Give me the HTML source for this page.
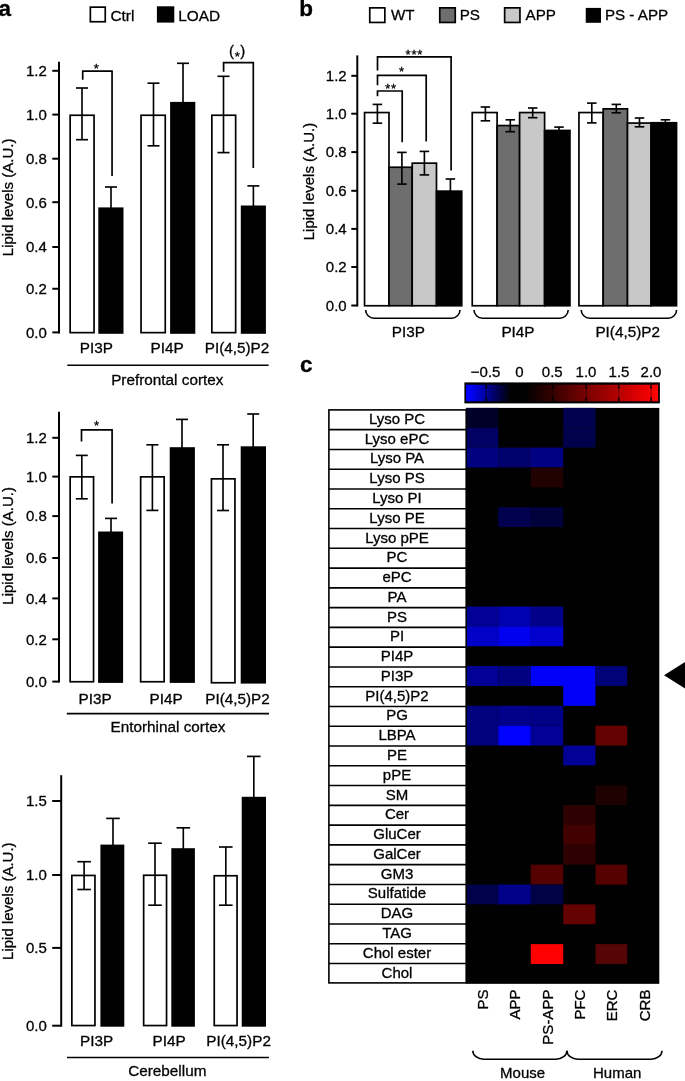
<!DOCTYPE html>
<html><head><meta charset="utf-8"><title>Figure</title>
<style>html,body{margin:0;padding:0;background:#fff}svg{display:block}text{font-family:"Liberation Sans",sans-serif;fill:#000;stroke:#000;stroke-width:0.3px}</style></head><body>
<svg width="685" height="1081" viewBox="0 0 685 1081">
<rect x="0" y="0" width="685" height="1081" fill="#fff"/>
<g opacity="0.999">
<text x="-1.6" y="15.9" text-anchor="start" font-size="22.5" font-weight="bold" >a</text>
<text x="299.3" y="15.9" text-anchor="start" font-size="22.5" font-weight="bold" >b</text>
<text x="299.9" y="372" text-anchor="start" font-size="22.5" font-weight="bold" >c</text>
<rect x="90.35" y="7.15" width="14.9" height="14.6" fill="#fff" stroke="#000" stroke-width="1.7"/>
<text x="110.4" y="20.6" text-anchor="start" font-size="15.4" >Ctrl</text>
<rect x="157.75" y="7.15" width="15.7" height="14.6" fill="#000" stroke="#000" stroke-width="1.7"/>
<text x="178.2" y="20.6" text-anchor="start" font-size="15.4" >LOAD</text>
<line x1="59" y1="61.7" x2="59" y2="333.4" stroke="#000" stroke-width="2.0" />
<line x1="52.3" y1="70.8" x2="59" y2="70.8" stroke="#000" stroke-width="2.0" />
<text x="46.9" y="76.1" text-anchor="end" font-size="15" >1.2</text>
<line x1="52.3" y1="114.6" x2="59" y2="114.6" stroke="#000" stroke-width="2.0" />
<text x="46.9" y="119.9" text-anchor="end" font-size="15" >1.0</text>
<line x1="52.3" y1="158.7" x2="59" y2="158.7" stroke="#000" stroke-width="2.0" />
<text x="46.9" y="164" text-anchor="end" font-size="15" >0.8</text>
<line x1="52.3" y1="202.2" x2="59" y2="202.2" stroke="#000" stroke-width="2.0" />
<text x="46.9" y="207.5" text-anchor="end" font-size="15" >0.6</text>
<line x1="52.3" y1="247" x2="59" y2="247" stroke="#000" stroke-width="2.0" />
<text x="46.9" y="252.3" text-anchor="end" font-size="15" >0.4</text>
<line x1="52.3" y1="288.75" x2="59" y2="288.75" stroke="#000" stroke-width="2.0" />
<text x="46.9" y="294.05" text-anchor="end" font-size="15" >0.2</text>
<line x1="52.3" y1="332.4" x2="59" y2="332.4" stroke="#000" stroke-width="2.0" />
<text x="46.9" y="337.7" text-anchor="end" font-size="15" >0.0</text>
<rect x="70.15" y="115.25" width="23.9" height="217.4" fill="#fff" stroke="#000" stroke-width="1.7"/>
<line x1="82" y1="88" x2="82" y2="139.7" stroke="#000" stroke-width="1.65" />
<line x1="76" y1="88" x2="88" y2="88" stroke="#000" stroke-width="1.65" />
<line x1="76" y1="139.7" x2="88" y2="139.7" stroke="#000" stroke-width="1.65" />
<line x1="111" y1="187" x2="111" y2="208.4" stroke="#000" stroke-width="1.65" />
<line x1="105" y1="187" x2="117" y2="187" stroke="#000" stroke-width="1.65" />
<rect x="98.3" y="207.4" width="25.2" height="126.4" fill="#000"/>
<rect x="141.05" y="115.25" width="24.2" height="217.4" fill="#fff" stroke="#000" stroke-width="1.7"/>
<line x1="153.5" y1="83.2" x2="153.5" y2="145.8" stroke="#000" stroke-width="1.65" />
<line x1="147.5" y1="83.2" x2="159.5" y2="83.2" stroke="#000" stroke-width="1.65" />
<line x1="147.5" y1="145.8" x2="159.5" y2="145.8" stroke="#000" stroke-width="1.65" />
<line x1="183" y1="63.3" x2="183" y2="102.9" stroke="#000" stroke-width="1.65" />
<line x1="177" y1="63.3" x2="189" y2="63.3" stroke="#000" stroke-width="1.65" />
<rect x="170.1" y="101.9" width="25.2" height="231.9" fill="#000"/>
<rect x="211.85" y="115.25" width="23.8" height="217.4" fill="#fff" stroke="#000" stroke-width="1.7"/>
<line x1="223.5" y1="76.3" x2="223.5" y2="152.6" stroke="#000" stroke-width="1.65" />
<line x1="217.5" y1="76.3" x2="229.5" y2="76.3" stroke="#000" stroke-width="1.65" />
<line x1="217.5" y1="152.6" x2="229.5" y2="152.6" stroke="#000" stroke-width="1.65" />
<line x1="253.4" y1="185.9" x2="253.4" y2="206.5" stroke="#000" stroke-width="1.65" />
<line x1="247.4" y1="185.9" x2="259.4" y2="185.9" stroke="#000" stroke-width="1.65" />
<rect x="240.8" y="205.5" width="25.1" height="128.3" fill="#000"/>
<text x="96.4" y="352.9" text-anchor="middle" font-size="15.3" >PI3P</text>
<text x="167.2" y="352.9" text-anchor="middle" font-size="15.3" >PI4P</text>
<text x="237" y="352.9" text-anchor="middle" font-size="15.3" >PI(4,5)P2</text>
<line x1="67.3" y1="365.3" x2="268.6" y2="365.3" stroke="#000" stroke-width="1.6" />
<text x="167.3" y="384.6" text-anchor="middle" font-size="15.3" >Prefrontal cortex</text>
<text transform="translate(13.2,197.4) rotate(-90)" text-anchor="middle" font-size="15" >Lipid levels (A.U.)</text>
<path d="M82.7 79.8 V71.1 H112.05 V176.1" fill="none" stroke="#000" stroke-width="1.7" stroke-linejoin="miter"/>
<text x="96.25" y="73.3" text-anchor="middle" font-size="13" stroke-width="0.55">*</text>
<path d="M223.6 71.8 V62.6 H253.3 V167.9" fill="none" stroke="#000" stroke-width="1.7" stroke-linejoin="miter"/>
<text x="237.2" y="60.9" text-anchor="middle" font-size="13" stroke-width="0.55">*</text>
<text x="229.1" y="55.6" text-anchor="start" font-size="15" >(</text>
<text x="245.2" y="55.6" text-anchor="end" font-size="15" >)</text>
<line x1="59" y1="411.7" x2="59" y2="682.6" stroke="#000" stroke-width="2.0" />
<line x1="52.3" y1="437.8" x2="59" y2="437.8" stroke="#000" stroke-width="2.0" />
<text x="46.9" y="443.1" text-anchor="end" font-size="15" >1.2</text>
<line x1="52.3" y1="476.6" x2="59" y2="476.6" stroke="#000" stroke-width="2.0" />
<text x="46.9" y="481.9" text-anchor="end" font-size="15" >1.0</text>
<line x1="52.3" y1="516.1" x2="59" y2="516.1" stroke="#000" stroke-width="2.0" />
<text x="46.9" y="521.4" text-anchor="end" font-size="15" >0.8</text>
<line x1="52.3" y1="558" x2="59" y2="558" stroke="#000" stroke-width="2.0" />
<text x="46.9" y="563.3" text-anchor="end" font-size="15" >0.6</text>
<line x1="52.3" y1="598.4" x2="59" y2="598.4" stroke="#000" stroke-width="2.0" />
<text x="46.9" y="603.7" text-anchor="end" font-size="15" >0.4</text>
<line x1="52.3" y1="639.3" x2="59" y2="639.3" stroke="#000" stroke-width="2.0" />
<text x="46.9" y="644.6" text-anchor="end" font-size="15" >0.2</text>
<line x1="52.3" y1="681.6" x2="59" y2="681.6" stroke="#000" stroke-width="2.0" />
<text x="46.9" y="686.9" text-anchor="end" font-size="15" >0.0</text>
<rect x="70.15" y="476.85" width="23.4" height="204.9" fill="#fff" stroke="#000" stroke-width="1.7"/>
<line x1="81.8" y1="455.4" x2="81.8" y2="498.8" stroke="#000" stroke-width="1.65" />
<line x1="75.8" y1="455.4" x2="87.8" y2="455.4" stroke="#000" stroke-width="1.65" />
<line x1="75.8" y1="498.8" x2="87.8" y2="498.8" stroke="#000" stroke-width="1.65" />
<line x1="111" y1="518.4" x2="111" y2="532.5" stroke="#000" stroke-width="1.65" />
<line x1="105" y1="518.4" x2="117" y2="518.4" stroke="#000" stroke-width="1.65" />
<rect x="98.1" y="531.5" width="25" height="151.4" fill="#000"/>
<rect x="140.65" y="476.85" width="23.5" height="204.9" fill="#fff" stroke="#000" stroke-width="1.7"/>
<line x1="152.4" y1="444.8" x2="152.4" y2="510.4" stroke="#000" stroke-width="1.65" />
<line x1="146.4" y1="444.8" x2="158.4" y2="444.8" stroke="#000" stroke-width="1.65" />
<line x1="146.4" y1="510.4" x2="158.4" y2="510.4" stroke="#000" stroke-width="1.65" />
<line x1="182" y1="419.4" x2="182" y2="448.2" stroke="#000" stroke-width="1.65" />
<line x1="176" y1="419.4" x2="188" y2="419.4" stroke="#000" stroke-width="1.65" />
<rect x="169.7" y="447.2" width="25.2" height="235.7" fill="#000"/>
<rect x="211.45" y="478.85" width="23.5" height="203.9" fill="#fff" stroke="#000" stroke-width="1.7"/>
<line x1="223" y1="444.8" x2="223" y2="510.5" stroke="#000" stroke-width="1.65" />
<line x1="217" y1="444.8" x2="229" y2="444.8" stroke="#000" stroke-width="1.65" />
<line x1="217" y1="510.5" x2="229" y2="510.5" stroke="#000" stroke-width="1.65" />
<line x1="253.2" y1="414" x2="253.2" y2="447.3" stroke="#000" stroke-width="1.65" />
<line x1="247.2" y1="414" x2="259.2" y2="414" stroke="#000" stroke-width="1.65" />
<rect x="240.7" y="446.3" width="25.3" height="237.3" fill="#000"/>
<text x="95.2" y="703.8" text-anchor="middle" font-size="15.3" >PI3P</text>
<text x="166.2" y="703.8" text-anchor="middle" font-size="15.3" >PI4P</text>
<text x="237.5" y="703.8" text-anchor="middle" font-size="15.3" >PI(4,5)P2</text>
<line x1="66.8" y1="713.6" x2="269" y2="713.6" stroke="#000" stroke-width="1.6" />
<text x="167.9" y="731.8" text-anchor="middle" font-size="15.3" >Entorhinal cortex</text>
<text transform="translate(13.2,545.9) rotate(-90)" text-anchor="middle" font-size="15" >Lipid levels (A.U.)</text>
<path d="M81.5 441.6 V429.9 H112.1 V503.5" fill="none" stroke="#000" stroke-width="1.7" stroke-linejoin="miter"/>
<text x="96.5" y="429.6" text-anchor="middle" font-size="13" stroke-width="0.55">*</text>
<line x1="61.2" y1="775.2" x2="61.2" y2="1026.7" stroke="#000" stroke-width="2.0" />
<line x1="52.2" y1="801" x2="61.2" y2="801" stroke="#000" stroke-width="2.0" />
<text x="46.9" y="806.3" text-anchor="end" font-size="15" >1.5</text>
<line x1="52.2" y1="875" x2="61.2" y2="875" stroke="#000" stroke-width="2.0" />
<text x="46.9" y="880.3" text-anchor="end" font-size="15" >1.0</text>
<line x1="52.2" y1="947.9" x2="61.2" y2="947.9" stroke="#000" stroke-width="2.0" />
<text x="46.9" y="953.2" text-anchor="end" font-size="15" >0.5</text>
<line x1="52.2" y1="1025.7" x2="61.2" y2="1025.7" stroke="#000" stroke-width="2.0" />
<text x="46.9" y="1031" text-anchor="end" font-size="15" >0.0</text>
<rect x="71.85" y="875.45" width="23.1" height="150.1" fill="#fff" stroke="#000" stroke-width="1.7"/>
<line x1="84.1" y1="861.7" x2="84.1" y2="889.5" stroke="#000" stroke-width="1.65" />
<line x1="77.3" y1="861.7" x2="90.9" y2="861.7" stroke="#000" stroke-width="1.65" />
<line x1="77.3" y1="889.5" x2="90.9" y2="889.5" stroke="#000" stroke-width="1.65" />
<line x1="113" y1="818.4" x2="113" y2="845.6" stroke="#000" stroke-width="1.65" />
<line x1="106.2" y1="818.4" x2="119.8" y2="818.4" stroke="#000" stroke-width="1.65" />
<rect x="100.4" y="844.6" width="23.9" height="182.1" fill="#000"/>
<rect x="143.65" y="875.25" width="22.9" height="150.3" fill="#fff" stroke="#000" stroke-width="1.7"/>
<line x1="155" y1="843.2" x2="155" y2="905.2" stroke="#000" stroke-width="1.65" />
<line x1="148.2" y1="843.2" x2="161.8" y2="843.2" stroke="#000" stroke-width="1.65" />
<line x1="148.2" y1="905.2" x2="161.8" y2="905.2" stroke="#000" stroke-width="1.65" />
<line x1="183.3" y1="827.8" x2="183.3" y2="849.2" stroke="#000" stroke-width="1.65" />
<line x1="176.5" y1="827.8" x2="190.1" y2="827.8" stroke="#000" stroke-width="1.65" />
<rect x="171.3" y="848.2" width="23.6" height="178.5" fill="#000"/>
<rect x="214.25" y="875.75" width="22.8" height="149.8" fill="#fff" stroke="#000" stroke-width="1.7"/>
<line x1="225.8" y1="847" x2="225.8" y2="905.2" stroke="#000" stroke-width="1.65" />
<line x1="219" y1="847" x2="232.6" y2="847" stroke="#000" stroke-width="1.65" />
<line x1="219" y1="905.2" x2="232.6" y2="905.2" stroke="#000" stroke-width="1.65" />
<line x1="253.8" y1="756.4" x2="253.8" y2="797.8" stroke="#000" stroke-width="1.65" />
<line x1="247" y1="756.4" x2="260.6" y2="756.4" stroke="#000" stroke-width="1.65" />
<rect x="241.7" y="796.8" width="24.3" height="229.9" fill="#000"/>
<text x="96.6" y="1045.5" text-anchor="middle" font-size="15.3" >PI3P</text>
<text x="169.2" y="1045.5" text-anchor="middle" font-size="15.3" >PI4P</text>
<text x="238.6" y="1045.5" text-anchor="middle" font-size="15.3" >PI(4,5)P2</text>
<line x1="67" y1="1057.5" x2="268.9" y2="1057.5" stroke="#000" stroke-width="1.6" />
<text x="167.3" y="1075.8" text-anchor="middle" font-size="15.3" >Cerebellum</text>
<text transform="translate(13.2,901.2) rotate(-90)" text-anchor="middle" font-size="15" >Lipid levels (A.U.)</text>
<rect x="369.75" y="7.85" width="15.1" height="14.6" fill="#fff" stroke="#000" stroke-width="1.7"/>
<text x="390.9" y="19.8" text-anchor="start" font-size="15.2" >WT</text>
<rect x="439.75" y="7.85" width="15.5" height="14.6" fill="#6e6e6e" stroke="#000" stroke-width="1.7"/>
<text x="459.7" y="19.8" text-anchor="start" font-size="15.2" >PS</text>
<rect x="504.65" y="7.85" width="15.3" height="14.6" fill="#c8c8c8" stroke="#000" stroke-width="1.7"/>
<text x="525.6" y="19.8" text-anchor="start" font-size="15.2" >APP</text>
<rect x="586.6" y="8.75" width="13.55" height="13.2" fill="#000" stroke="#000" stroke-width="1.7"/>
<text x="604.9" y="19.8" text-anchor="start" font-size="15.2" >PS - APP</text>
<line x1="357.3" y1="55.4" x2="357.3" y2="306.5" stroke="#000" stroke-width="2.0" />
<line x1="351.3" y1="75.8" x2="357.3" y2="75.8" stroke="#000" stroke-width="2.0" />
<text x="346.7" y="81.1" text-anchor="end" font-size="15" >1.2</text>
<line x1="351.3" y1="113.7" x2="357.3" y2="113.7" stroke="#000" stroke-width="2.0" />
<text x="346.7" y="119" text-anchor="end" font-size="15" >1.0</text>
<line x1="351.3" y1="152.1" x2="357.3" y2="152.1" stroke="#000" stroke-width="2.0" />
<text x="346.7" y="157.4" text-anchor="end" font-size="15" >0.8</text>
<line x1="351.3" y1="190.8" x2="357.3" y2="190.8" stroke="#000" stroke-width="2.0" />
<text x="346.7" y="196.1" text-anchor="end" font-size="15" >0.6</text>
<line x1="351.3" y1="228.9" x2="357.3" y2="228.9" stroke="#000" stroke-width="2.0" />
<text x="346.7" y="234.2" text-anchor="end" font-size="15" >0.4</text>
<line x1="351.3" y1="267" x2="357.3" y2="267" stroke="#000" stroke-width="2.0" />
<text x="346.7" y="272.3" text-anchor="end" font-size="15" >0.2</text>
<line x1="351.3" y1="305.5" x2="357.3" y2="305.5" stroke="#000" stroke-width="2.0" />
<text x="346.7" y="310.8" text-anchor="end" font-size="15" >0.0</text>
<text transform="translate(314.2,181.5) rotate(-90)" text-anchor="middle" font-size="15" >Lipid levels (A.U.)</text>
<rect x="364.55" y="112.55" width="24.45" height="193.2" fill="#fff" stroke="#000" stroke-width="1.7"/>
<rect x="389" y="167.25" width="23.2" height="138.5" fill="#6e6e6e" stroke="#000" stroke-width="1.7"/>
<rect x="412.2" y="163.15" width="24.3" height="142.6" fill="#c8c8c8" stroke="#000" stroke-width="1.7"/>
<rect x="436.5" y="191.15" width="25.25" height="114.6" fill="#000" stroke="#000" stroke-width="1.7"/>
<line x1="377.4" y1="104.4" x2="377.4" y2="123.2" stroke="#000" stroke-width="1.65" />
<line x1="372.65" y1="104.4" x2="382.15" y2="104.4" stroke="#000" stroke-width="1.65" />
<line x1="372.65" y1="123.2" x2="382.15" y2="123.2" stroke="#000" stroke-width="1.65" />
<line x1="401.9" y1="152.4" x2="401.9" y2="184.1" stroke="#000" stroke-width="1.65" />
<line x1="397.15" y1="152.4" x2="406.65" y2="152.4" stroke="#000" stroke-width="1.65" />
<line x1="397.15" y1="184.1" x2="406.65" y2="184.1" stroke="#000" stroke-width="1.65" />
<line x1="424.4" y1="151.4" x2="424.4" y2="174.9" stroke="#000" stroke-width="1.65" />
<line x1="419.65" y1="151.4" x2="429.15" y2="151.4" stroke="#000" stroke-width="1.65" />
<line x1="419.65" y1="174.9" x2="429.15" y2="174.9" stroke="#000" stroke-width="1.65" />
<line x1="450.4" y1="179" x2="450.4" y2="191.3" stroke="#000" stroke-width="1.65" />
<line x1="445.65" y1="179" x2="455.15" y2="179" stroke="#000" stroke-width="1.65" />
<rect x="472.25" y="112.55" width="24.85" height="193.2" fill="#fff" stroke="#000" stroke-width="1.7"/>
<rect x="497.1" y="125.55" width="22.5" height="180.2" fill="#6e6e6e" stroke="#000" stroke-width="1.7"/>
<rect x="519.6" y="112.55" width="25" height="193.2" fill="#c8c8c8" stroke="#000" stroke-width="1.7"/>
<rect x="544.6" y="130.45" width="25.35" height="175.3" fill="#000" stroke="#000" stroke-width="1.7"/>
<line x1="485.4" y1="107" x2="485.4" y2="120.8" stroke="#000" stroke-width="1.65" />
<line x1="480.65" y1="107" x2="490.15" y2="107" stroke="#000" stroke-width="1.65" />
<line x1="480.65" y1="120.8" x2="490.15" y2="120.8" stroke="#000" stroke-width="1.65" />
<line x1="510.3" y1="119.8" x2="510.3" y2="131.7" stroke="#000" stroke-width="1.65" />
<line x1="505.55" y1="119.8" x2="515.05" y2="119.8" stroke="#000" stroke-width="1.65" />
<line x1="505.55" y1="131.7" x2="515.05" y2="131.7" stroke="#000" stroke-width="1.65" />
<line x1="532.7" y1="108" x2="532.7" y2="117.7" stroke="#000" stroke-width="1.65" />
<line x1="527.95" y1="108" x2="537.45" y2="108" stroke="#000" stroke-width="1.65" />
<line x1="527.95" y1="117.7" x2="537.45" y2="117.7" stroke="#000" stroke-width="1.65" />
<line x1="559" y1="127.1" x2="559" y2="130.6" stroke="#000" stroke-width="1.65" />
<line x1="554.25" y1="127.1" x2="563.75" y2="127.1" stroke="#000" stroke-width="1.65" />
<rect x="578.95" y="112.55" width="24.25" height="193.2" fill="#fff" stroke="#000" stroke-width="1.7"/>
<rect x="603.2" y="108.85" width="24.3" height="196.9" fill="#6e6e6e" stroke="#000" stroke-width="1.7"/>
<rect x="627.5" y="123.05" width="23.6" height="182.7" fill="#c8c8c8" stroke="#000" stroke-width="1.7"/>
<rect x="651.1" y="122.75" width="25.45" height="183" fill="#000" stroke="#000" stroke-width="1.7"/>
<line x1="591.8" y1="103.1" x2="591.8" y2="122.9" stroke="#000" stroke-width="1.65" />
<line x1="587.05" y1="103.1" x2="596.55" y2="103.1" stroke="#000" stroke-width="1.65" />
<line x1="587.05" y1="122.9" x2="596.55" y2="122.9" stroke="#000" stroke-width="1.65" />
<line x1="616.3" y1="104.4" x2="616.3" y2="112.8" stroke="#000" stroke-width="1.65" />
<line x1="611.55" y1="104.4" x2="621.05" y2="104.4" stroke="#000" stroke-width="1.65" />
<line x1="611.55" y1="112.8" x2="621.05" y2="112.8" stroke="#000" stroke-width="1.65" />
<line x1="639.5" y1="118" x2="639.5" y2="126.8" stroke="#000" stroke-width="1.65" />
<line x1="634.75" y1="118" x2="644.25" y2="118" stroke="#000" stroke-width="1.65" />
<line x1="634.75" y1="126.8" x2="644.25" y2="126.8" stroke="#000" stroke-width="1.65" />
<line x1="665.4" y1="119.8" x2="665.4" y2="122.9" stroke="#000" stroke-width="1.65" />
<line x1="660.65" y1="119.8" x2="670.15" y2="119.8" stroke="#000" stroke-width="1.65" />
<path d="M365.6 310 C365.6 314.51 369.43 318.2 374.1 318.2 H451.5 C456.18 318.2 460 314.51 460 310" fill="none" stroke="#000" stroke-width="1.6"/>
<path d="M474 310 C474 314.51 477.82 318.2 482.5 318.2 H559.7 C564.38 318.2 568.2 314.51 568.2 310" fill="none" stroke="#000" stroke-width="1.6"/>
<path d="M581.2 310 C581.2 314.51 585.03 318.2 589.7 318.2 H668.1 C672.77 318.2 676.6 314.51 676.6 310" fill="none" stroke="#000" stroke-width="1.6"/>
<text x="408.3" y="336.8" text-anchor="middle" font-size="15.3" >PI3P</text>
<text x="518" y="336.8" text-anchor="middle" font-size="15.3" >PI4P</text>
<text x="627.7" y="336.8" text-anchor="middle" font-size="15.3" >PI(4,5)P2</text>
<path d="M377.5 70.5 V56.8 H451.1 V170.4" fill="none" stroke="#000" stroke-width="1.7" stroke-linejoin="miter"/>
<path d="M377.5 85.3 V75.4 H426.2 V141.6" fill="none" stroke="#000" stroke-width="1.7" stroke-linejoin="miter"/>
<path d="M377.5 96.2 V91 H402.2 V142.2" fill="none" stroke="#000" stroke-width="1.7" stroke-linejoin="miter"/>
<text x="414.4" y="58.6" text-anchor="middle" font-size="13" letter-spacing="0.9" stroke-width="0.55">***</text>
<text x="401.5" y="76.3" text-anchor="middle" font-size="13" stroke-width="0.55">*</text>
<text x="391.1" y="93" text-anchor="middle" font-size="13" letter-spacing="0.9" stroke-width="0.55">**</text>
<defs><linearGradient id="cb" x1="0" y1="0" x2="1" y2="0"><stop offset="0" stop-color="#0000ff"/><stop offset="0.02" stop-color="#0000ff"/><stop offset="0.234" stop-color="#000000"/><stop offset="0.307" stop-color="#000000"/><stop offset="0.984" stop-color="#ff0000"/><stop offset="1" stop-color="#ff0808"/></linearGradient></defs>
<rect x="464.4" y="382.4" width="195.5" height="21" fill="#000"/>
<rect x="466.1" y="384.7" width="192" height="16.6" fill="url(#cb)"/>
<line x1="486.3" y1="384.7" x2="486.3" y2="401.3" stroke="#000" stroke-opacity="0.3" stroke-width="1.6"/>
<line x1="486.3" y1="384.7" x2="486.3" y2="388.7" stroke="#000" stroke-opacity="0.75" stroke-width="1.8"/>
<line x1="486.3" y1="397.3" x2="486.3" y2="401.3" stroke="#000" stroke-opacity="0.75" stroke-width="1.8"/>
<line x1="519.6" y1="384.7" x2="519.6" y2="401.3" stroke="#000" stroke-opacity="0.3" stroke-width="1.6"/>
<line x1="519.6" y1="384.7" x2="519.6" y2="388.7" stroke="#000" stroke-opacity="0.75" stroke-width="1.8"/>
<line x1="519.6" y1="397.3" x2="519.6" y2="401.3" stroke="#000" stroke-opacity="0.75" stroke-width="1.8"/>
<line x1="553.0" y1="384.7" x2="553.0" y2="401.3" stroke="#000" stroke-opacity="0.3" stroke-width="1.6"/>
<line x1="553.0" y1="384.7" x2="553.0" y2="388.7" stroke="#000" stroke-opacity="0.75" stroke-width="1.8"/>
<line x1="553.0" y1="397.3" x2="553.0" y2="401.3" stroke="#000" stroke-opacity="0.75" stroke-width="1.8"/>
<line x1="586.3" y1="384.7" x2="586.3" y2="401.3" stroke="#000" stroke-opacity="0.3" stroke-width="1.6"/>
<line x1="586.3" y1="384.7" x2="586.3" y2="388.7" stroke="#000" stroke-opacity="0.75" stroke-width="1.8"/>
<line x1="586.3" y1="397.3" x2="586.3" y2="401.3" stroke="#000" stroke-opacity="0.75" stroke-width="1.8"/>
<line x1="618.7" y1="384.7" x2="618.7" y2="401.3" stroke="#000" stroke-opacity="0.3" stroke-width="1.6"/>
<line x1="618.7" y1="384.7" x2="618.7" y2="388.7" stroke="#000" stroke-opacity="0.75" stroke-width="1.8"/>
<line x1="618.7" y1="397.3" x2="618.7" y2="401.3" stroke="#000" stroke-opacity="0.75" stroke-width="1.8"/>
<line x1="651.1" y1="384.7" x2="651.1" y2="401.3" stroke="#000" stroke-opacity="0.3" stroke-width="1.6"/>
<line x1="651.1" y1="384.7" x2="651.1" y2="388.7" stroke="#000" stroke-opacity="0.75" stroke-width="1.8"/>
<line x1="651.1" y1="397.3" x2="651.1" y2="401.3" stroke="#000" stroke-opacity="0.75" stroke-width="1.8"/>
<text x="485.6" y="376.8" text-anchor="middle" font-size="15" >−0.5</text>
<text x="519.3" y="376.8" text-anchor="middle" font-size="15" >0</text>
<text x="552.3" y="376.8" text-anchor="middle" font-size="15" >0.5</text>
<text x="586" y="376.8" text-anchor="middle" font-size="15" >1.0</text>
<text x="619" y="376.8" text-anchor="middle" font-size="15" >1.5</text>
<text x="651" y="376.8" text-anchor="middle" font-size="15" >2.0</text>
<rect x="465.9" y="407.9" width="193.4" height="575.94" fill="#000"/>
<rect x="465.9" y="407.9" width="32.4" height="19.86" fill="#000028"/>
<rect x="563.25" y="407.9" width="32.25" height="19.86" fill="#000050"/>
<rect x="465.9" y="427.76" width="32.4" height="19.86" fill="#000064"/>
<rect x="563.25" y="427.76" width="32.25" height="19.86" fill="#00004b"/>
<rect x="465.9" y="447.62" width="32.4" height="19.86" fill="#000082"/>
<rect x="498.3" y="447.62" width="32.5" height="19.86" fill="#00006e"/>
<rect x="530.8" y="447.62" width="32.45" height="19.86" fill="#000084"/>
<rect x="530.8" y="467.48" width="32.45" height="19.86" fill="#220000"/>
<rect x="498.3" y="507.2" width="32.5" height="19.86" fill="#000050"/>
<rect x="530.8" y="507.2" width="32.45" height="19.86" fill="#00003c"/>
<rect x="465.9" y="606.5" width="32.4" height="19.86" fill="#000096"/>
<rect x="498.3" y="606.5" width="32.5" height="19.86" fill="#0000af"/>
<rect x="530.8" y="606.5" width="32.45" height="19.86" fill="#00008c"/>
<rect x="465.9" y="626.36" width="32.4" height="19.86" fill="#0000c8"/>
<rect x="498.3" y="626.36" width="32.5" height="19.86" fill="#0000f0"/>
<rect x="530.8" y="626.36" width="32.45" height="19.86" fill="#0000cd"/>
<rect x="465.9" y="666.08" width="32.4" height="19.86" fill="#000096"/>
<rect x="498.3" y="666.08" width="32.5" height="19.86" fill="#000082"/>
<rect x="530.8" y="666.08" width="33.05" height="19.86" fill="#0000fa"/>
<rect x="563.25" y="666.08" width="32.25" height="20.46" fill="#0000fa"/>
<rect x="595.5" y="666.08" width="31.7" height="19.86" fill="#000078"/>
<rect x="563.25" y="685.94" width="32.25" height="19.86" fill="#0000fa"/>
<rect x="465.9" y="705.8" width="32.4" height="20.46" fill="#00007d"/>
<rect x="498.3" y="705.8" width="32.5" height="19.86" fill="#00008c"/>
<rect x="530.8" y="705.8" width="32.45" height="19.86" fill="#000087"/>
<rect x="465.9" y="725.66" width="32.4" height="19.86" fill="#00007d"/>
<rect x="498.3" y="725.66" width="32.5" height="19.86" fill="#0000ff"/>
<rect x="530.8" y="725.66" width="32.45" height="19.86" fill="#000096"/>
<rect x="595.5" y="725.66" width="31.7" height="19.86" fill="#640000"/>
<rect x="563.25" y="745.52" width="32.25" height="19.86" fill="#000096"/>
<rect x="595.5" y="785.24" width="31.7" height="19.86" fill="#1e0000"/>
<rect x="563.25" y="805.1" width="32.25" height="19.86" fill="#2d0000"/>
<rect x="563.25" y="824.96" width="32.25" height="19.86" fill="#410000"/>
<rect x="563.25" y="844.82" width="32.25" height="19.86" fill="#2d0000"/>
<rect x="530.8" y="864.68" width="32.45" height="19.86" fill="#550000"/>
<rect x="595.5" y="864.68" width="31.7" height="19.86" fill="#550000"/>
<rect x="465.9" y="884.54" width="32.4" height="19.86" fill="#00004b"/>
<rect x="498.3" y="884.54" width="32.5" height="19.86" fill="#00008c"/>
<rect x="530.8" y="884.54" width="32.45" height="19.86" fill="#000046"/>
<rect x="563.25" y="904.4" width="32.25" height="19.86" fill="#640000"/>
<rect x="530.8" y="944.12" width="32.45" height="19.86" fill="#ff0000"/>
<rect x="595.5" y="944.12" width="31.7" height="19.86" fill="#550505"/>
<rect x="328.9" y="409.9" width="137.3" height="573" fill="#fff" stroke="#000" stroke-width="1.6"/>
<line x1="328.9" y1="429.67" x2="466.2" y2="429.67" stroke="#000" stroke-width="1.6" />
<line x1="328.9" y1="449.44" x2="466.2" y2="449.44" stroke="#000" stroke-width="1.6" />
<line x1="328.9" y1="469.22" x2="466.2" y2="469.22" stroke="#000" stroke-width="1.6" />
<line x1="328.9" y1="488.99" x2="466.2" y2="488.99" stroke="#000" stroke-width="1.6" />
<line x1="328.9" y1="508.76" x2="466.2" y2="508.76" stroke="#000" stroke-width="1.6" />
<line x1="328.9" y1="528.53" x2="466.2" y2="528.53" stroke="#000" stroke-width="1.6" />
<line x1="328.9" y1="548.3" x2="466.2" y2="548.3" stroke="#000" stroke-width="1.6" />
<line x1="328.9" y1="568.08" x2="466.2" y2="568.08" stroke="#000" stroke-width="1.6" />
<line x1="328.9" y1="587.85" x2="466.2" y2="587.85" stroke="#000" stroke-width="1.6" />
<line x1="328.9" y1="607.62" x2="466.2" y2="607.62" stroke="#000" stroke-width="1.6" />
<line x1="328.9" y1="627.39" x2="466.2" y2="627.39" stroke="#000" stroke-width="1.6" />
<line x1="328.9" y1="647.16" x2="466.2" y2="647.16" stroke="#000" stroke-width="1.6" />
<line x1="328.9" y1="666.94" x2="466.2" y2="666.94" stroke="#000" stroke-width="1.6" />
<line x1="328.9" y1="686.71" x2="466.2" y2="686.71" stroke="#000" stroke-width="1.6" />
<line x1="328.9" y1="706.48" x2="466.2" y2="706.48" stroke="#000" stroke-width="1.6" />
<line x1="328.9" y1="726.25" x2="466.2" y2="726.25" stroke="#000" stroke-width="1.6" />
<line x1="328.9" y1="746.02" x2="466.2" y2="746.02" stroke="#000" stroke-width="1.6" />
<line x1="328.9" y1="765.8" x2="466.2" y2="765.8" stroke="#000" stroke-width="1.6" />
<line x1="328.9" y1="785.57" x2="466.2" y2="785.57" stroke="#000" stroke-width="1.6" />
<line x1="328.9" y1="805.34" x2="466.2" y2="805.34" stroke="#000" stroke-width="1.6" />
<line x1="328.9" y1="825.11" x2="466.2" y2="825.11" stroke="#000" stroke-width="1.6" />
<line x1="328.9" y1="844.88" x2="466.2" y2="844.88" stroke="#000" stroke-width="1.6" />
<line x1="328.9" y1="864.66" x2="466.2" y2="864.66" stroke="#000" stroke-width="1.6" />
<line x1="328.9" y1="884.43" x2="466.2" y2="884.43" stroke="#000" stroke-width="1.6" />
<line x1="328.9" y1="904.2" x2="466.2" y2="904.2" stroke="#000" stroke-width="1.6" />
<line x1="328.9" y1="923.97" x2="466.2" y2="923.97" stroke="#000" stroke-width="1.6" />
<line x1="328.9" y1="943.74" x2="466.2" y2="943.74" stroke="#000" stroke-width="1.6" />
<line x1="328.9" y1="963.52" x2="466.2" y2="963.52" stroke="#000" stroke-width="1.6" />
<text x="397" y="423.9" text-anchor="middle" font-size="15" >Lyso PC</text>
<text x="397" y="443.67" text-anchor="middle" font-size="15" >Lyso ePC</text>
<text x="397" y="463.44" text-anchor="middle" font-size="15" >Lyso PA</text>
<text x="397" y="483.22" text-anchor="middle" font-size="15" >Lyso PS</text>
<text x="397" y="502.99" text-anchor="middle" font-size="15" >Lyso PI</text>
<text x="397" y="522.76" text-anchor="middle" font-size="15" >Lyso PE</text>
<text x="397" y="542.53" text-anchor="middle" font-size="15" >Lyso pPE</text>
<text x="397" y="562.3" text-anchor="middle" font-size="15" >PC</text>
<text x="397" y="582.08" text-anchor="middle" font-size="15" >ePC</text>
<text x="397" y="601.85" text-anchor="middle" font-size="15" >PA</text>
<text x="397" y="621.62" text-anchor="middle" font-size="15" >PS</text>
<text x="397" y="641.39" text-anchor="middle" font-size="15" >PI</text>
<text x="397" y="661.16" text-anchor="middle" font-size="15" >PI4P</text>
<text x="397" y="680.94" text-anchor="middle" font-size="15" >PI3P</text>
<text x="397" y="700.71" text-anchor="middle" font-size="15" >PI(4,5)P2</text>
<text x="397" y="720.48" text-anchor="middle" font-size="15" >PG</text>
<text x="397" y="740.25" text-anchor="middle" font-size="15" >LBPA</text>
<text x="397" y="760.02" text-anchor="middle" font-size="15" >PE</text>
<text x="397" y="779.8" text-anchor="middle" font-size="15" >pPE</text>
<text x="397" y="799.57" text-anchor="middle" font-size="15" >SM</text>
<text x="397" y="819.34" text-anchor="middle" font-size="15" >Cer</text>
<text x="397" y="839.11" text-anchor="middle" font-size="15" >GluCer</text>
<text x="397" y="858.88" text-anchor="middle" font-size="15" >GalCer</text>
<text x="397" y="878.66" text-anchor="middle" font-size="15" >GM3</text>
<text x="397" y="898.43" text-anchor="middle" font-size="15" >Sulfatide</text>
<text x="397" y="918.2" text-anchor="middle" font-size="15" >DAG</text>
<text x="397" y="937.97" text-anchor="middle" font-size="15" >TAG</text>
<text x="397" y="957.74" text-anchor="middle" font-size="15" >Chol ester</text>
<text x="397" y="977.52" text-anchor="middle" font-size="15" >Chol</text>
<text transform="translate(487.62,989.6) rotate(-90)" text-anchor="end" font-size="15" >PS</text>
<text transform="translate(520.07,989.6) rotate(-90)" text-anchor="end" font-size="15" >APP</text>
<text transform="translate(552.52,989.6) rotate(-90)" text-anchor="end" font-size="15" >PS-APP</text>
<text transform="translate(584.98,989.6) rotate(-90)" text-anchor="end" font-size="15" >PFC</text>
<text transform="translate(617.42,989.6) rotate(-90)" text-anchor="end" font-size="15" >ERC</text>
<text transform="translate(649.88,989.6) rotate(-90)" text-anchor="end" font-size="15" >CRB</text>
<path d="M472.8 1050.8 C472.8 1055.42 477.75 1059.2 483.8 1059.2 H555.9 C561.95 1059.2 566.9 1055.42 566.9 1050.8" fill="none" stroke="#000" stroke-width="1.6"/>
<path d="M566.9 1050.8 C566.9 1055.42 571.85 1059.2 577.9 1059.2 H651 C657.05 1059.2 662 1055.42 662 1050.8" fill="none" stroke="#000" stroke-width="1.6"/>
<text x="522.6" y="1077.5" text-anchor="middle" font-size="15" >Mouse</text>
<text x="617.2" y="1077.5" text-anchor="middle" font-size="15" >Human</text>
<polygon points="664,675.2 689,659.5 689,690.9" fill="#000"/>
</g></svg></body></html>
